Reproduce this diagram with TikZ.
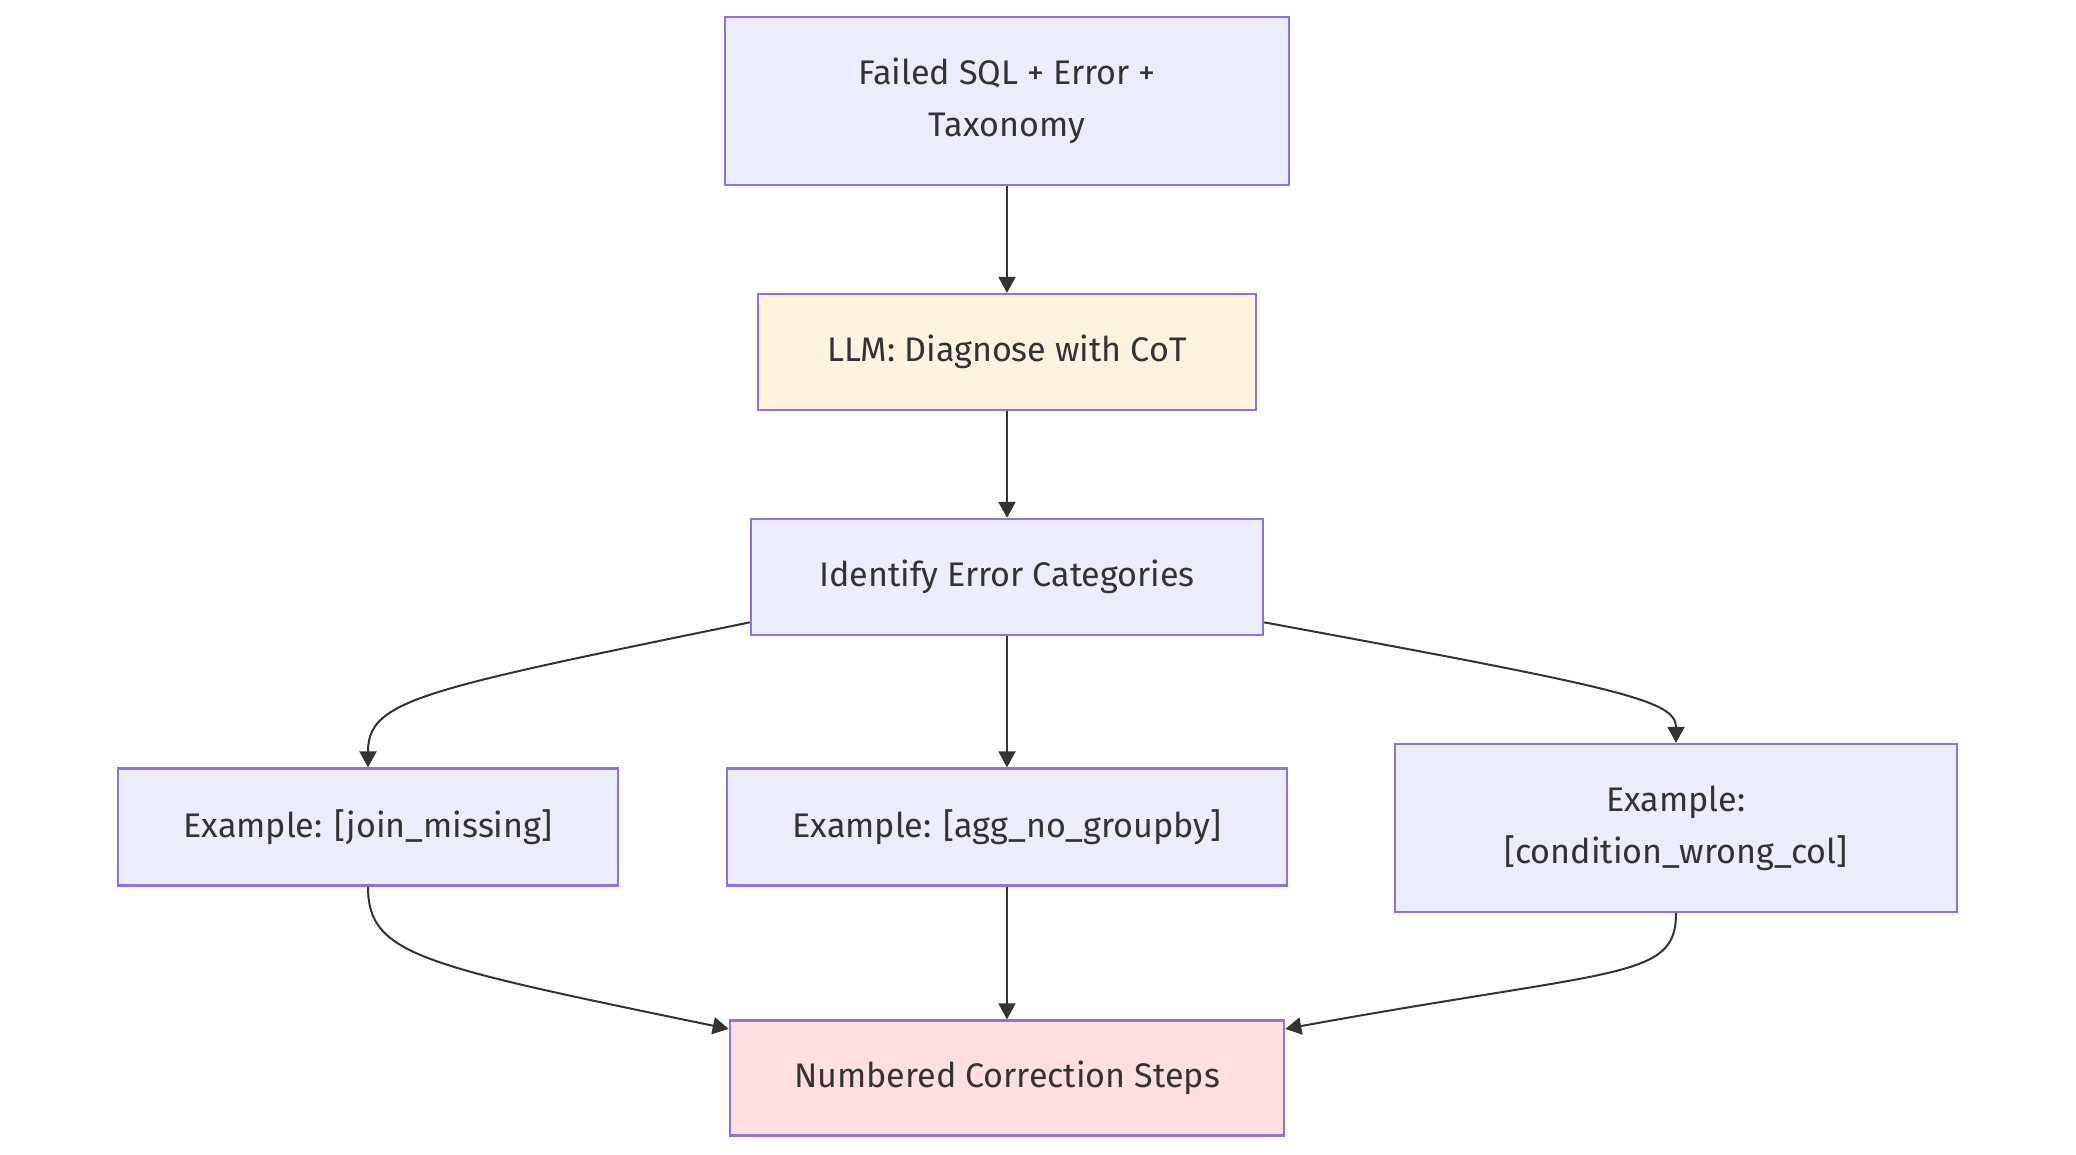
\documentclass[tikz,border=0pt]{standalone}
\usepackage{fontspec}
\setmainfont{Fira Sans}
\usepackage{xcolor}
\usepackage{tikz}
\definecolor{boxfill}{HTML}{ECECFF}
\definecolor{boxline}{HTML}{9370DB}
\definecolor{llmfill}{HTML}{FFF3E0}
\definecolor{stepsfill}{HTML}{FFDFE0}
\definecolor{inkgray}{HTML}{333333}
\usetikzlibrary{arrows.meta}
\tikzset{
	box/.style={draw=boxline, line width=0.022cm, fill=boxfill, rectangle, align=center, inner sep=0pt, text=inkgray, font=\fontsize{9.7}{14.8}\selectfont},
	flow/.style={draw=inkgray, line width=0.02cm, -{Triangle[length=0.16cm, width=0.17cm]}}
}

\begin{document}
\begin{tikzpicture}[x=0.01cm, y=-0.01cm]
	\useasboundingbox[fill=white] (0,0) rectangle (2076,1155);
	
	\node[box, minimum width=5.63cm, minimum height=1.68cm] (failed) at (1007,101) {Failed SQL + Error +\\Taxonomy};
	\node[box, fill=llmfill, minimum width=4.98cm, minimum height=1.16cm] (llm) at (1007,352) {LLM: Diagnose with CoT};
	\node[box, minimum width=5.12cm, minimum height=1.16cm] (ident) at (1007,577) {Identify Error Categories};
	
	\node[box, minimum width=5.00cm, minimum height=1.17cm] (join) at (368,827) {Example: [join\_missing]};
	\node[box, minimum width=5.60cm, minimum height=1.17cm] (agg) at (1007,827) {Example: [agg\_no\_groupby]};
	\node[box, minimum width=5.62cm, minimum height=1.68cm] (cond) at (1676,828) {Example:\\ {[}condition\_wrong\_col{]}};
	
	\node[box, fill=stepsfill, minimum width=5.54cm, minimum height=1.15cm] (steps) at (1007,1078) {Numbered Correction Steps};
	
	
	\draw[flow] (failed) -- (llm);
	\draw[flow] (llm) -- (ident);
	
	\draw[flow] (ident.190) .. controls (420,690) and (join.north |- 0,700) .. (join.north);
	\draw[flow] (ident) -- (agg);
	\draw[flow] (ident.350) .. controls (1620,688) and (cond.north |- 0,700) .. (cond.north);
	
	\draw[flow] (join.south) .. controls (join.south |- 0,955) and (420,965) .. (steps.170);
	\draw[flow] (agg) -- (steps);
	\draw[flow] (cond.south) .. controls (cond.south |- 0,980) and (1620,968) .. (steps.10);
	
\end{tikzpicture}
\end{document}
